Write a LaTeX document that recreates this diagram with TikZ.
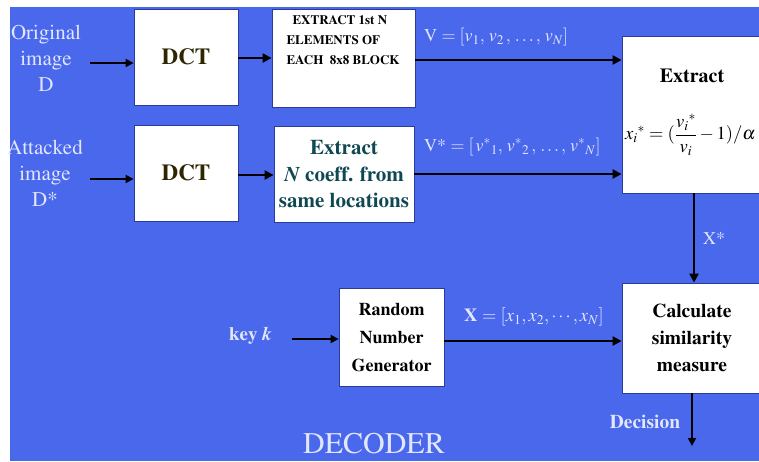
\documentclass[tikz,border=0pt]{standalone}
\usepackage[T1]{fontenc}
\usepackage{mathptmx}
\usetikzlibrary{arrows.meta}
\definecolor{slidebg}{HTML}{4A68EC}
\definecolor{lbl}{HTML}{E2E6FF}
\definecolor{dcttxt}{HTML}{2E2600}
\definecolor{tealtxt}{HTML}{0F4852}
\definecolor{boxedge}{HTML}{2A3C9A}
\tikzset{
  blk/.style={draw=boxedge, line width=0.8pt, fill=white, inner sep=0pt, align=center},
  lab/.style={text=lbl, inner sep=0pt, align=center},
  flow/.style={draw=black, line width=2.8pt, -{Triangle[length=9pt,width=9pt]}},
  thinflow/.style={draw=black, line width=1.8pt, -{Triangle[length=8pt,width=8pt]}},
}
\begin{document}
\begin{tikzpicture}[x=1pt,y=-1pt]
\useasboundingbox (0,0) rectangle (759,461);
\fill[white] (0,0) rectangle (759,461);
\fill[slidebg] (10,7) rectangle (759,461);

% inputs
\node[lab, font=\fontsize{21}{26}\selectfont] (orig) at (46,58) {Original\\image\\D};
\node[lab, font=\fontsize{21}{26}\selectfont] (att) at (45,173) {Attacked\\image\\D*};
\node[lab, font=\fontsize{19}{22}\selectfont\bfseries, anchor=east] (key) at (272,336) {key \textit{k}};

% blocks
\node[blk, minimum width=104, minimum height=96, text=dcttxt,
      font=\fontsize{23}{24}\selectfont\bfseries] (dct1) at (186,57) {DCT};
\node[blk, minimum width=104, minimum height=96, text=dcttxt,
      font=\fontsize{23}{24}\selectfont\bfseries] (dct2) at (186,173) {DCT};
\node[blk, minimum width=143, minimum height=98] (sel1) at (343.5,58) {};
\node[text=black, font=\fontsize{13}{20}\selectfont\bfseries, align=left, anchor=north west]
      (sel1txt) at (283,12) {\hspace*{6pt}EXTRACT 1st N\\ELEMENTS OF\\EACH\ \ 8x8 BLOCK};
\node[blk, minimum width=140, minimum height=96, text=tealtxt,
      font=\fontsize{21}{26.5}\selectfont\bfseries] (sel2) at (344,174)
      {Extract\\\textit{N} coeff. from\\same locations};
\node[blk, minimum width=170, minimum height=157] (ext) at (707,114.5) {};
\node[font=\fontsize{20}{22}\selectfont\bfseries] (exttitle) at (692,76) {Extract};
\node[anchor=west, inner sep=0pt, font=\fontsize{18.5}{24}\selectfont] (formula) at (625,135)
      {$\displaystyle x_i{}^{*}=(\frac{v_i{}^{*}}{v_i}-1)/\alpha$};
\node[blk, minimum width=105, minimum height=98, text=black,
      font=\fontsize{18}{28}\selectfont\bfseries] (rng) at (391.5,337) {Random\\Number\\Generator};
\node[blk, minimum width=140, minimum height=110, text=black,
      font=\fontsize{19.5}{27}\selectfont\bfseries] (sim) at (692,338) {Calculate\\similarity\\measure};

% connectors
\draw[thinflow] (90,63) -- (dct1.west |- 0,63);
\draw[thinflow] (90,179) -- (dct2.west |- 0,179);
\draw[flow] (dct1.east |- 0,58) -- (sel1.west |- 0,58);
\draw[flow] (dct2.east |- 0,175) -- (sel2.west |- 0,175);
\draw[flow] (sel1.east |- 0,60) -- (ext.west |- 0,60);
\draw[flow] (sel2.east |- 0,174) -- (ext.west |- 0,174);
\draw[thinflow] (292,339) -- (rng.west |- 0,339);
\draw[flow] (rng.east |- 0,341) -- (sim.west |- 0,341);
\draw[flow] (ext.south -| 694,0) -- (sim.north -| 694,0);
\coordinate (decend) at (692,446);
\draw[thinflow] (sim.south -| 692,0) -- (decend);

% signal labels
\node[lab, anchor=west, font=\fontsize{18}{20}\selectfont] (vlab) at (424,37)
      {V $=\left[v_1,\,v_2\,,\,\ldots,\,v_N\right]$};
\node[lab, anchor=west, font=\fontsize{18}{20}\selectfont] (vslab) at (424,147)
      {V* $=\left[\,v^{*}{}_1,\,v^{*}{}_2\,,\,\ldots,\,v^{*}{}_N\right]$};
\node[lab, anchor=west, font=\fontsize{18.5}{20}\selectfont\bfseries] (xlab) at (464,317)
      {X $=\left[x_1,x_2,\cdots,x_N\right]$};
\node[lab, font=\fontsize{18}{20}\selectfont] (xslab) at (714,238) {X*};
\node[lab, font=\fontsize{19.5}{20}\selectfont\bfseries] (declab) at (645,422) {Decision};
\node[lab, font=\fontsize{30}{32}\selectfont] (title) at (374,443) {DECODER};
\end{tikzpicture}
\end{document}
